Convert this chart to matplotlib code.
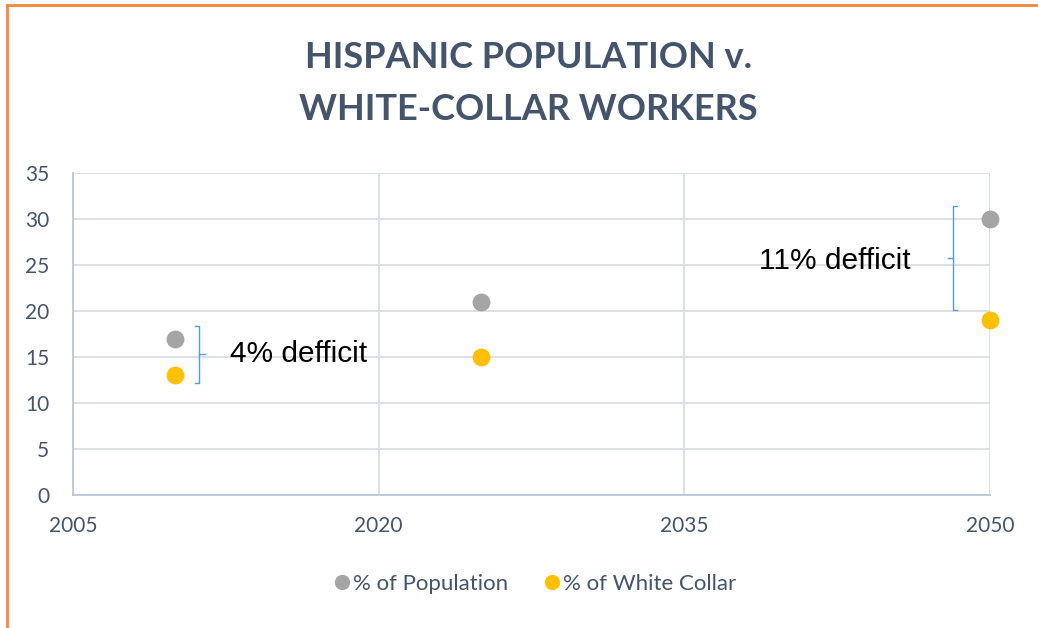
import matplotlib
matplotlib.use("Agg")
import matplotlib.pyplot as plt
from matplotlib.lines import Line2D

plt.rcParams.update({
    "font.family": ["Lato", "DejaVu Sans"],
})

# ---------- data ----------
years = [2010, 2025, 2050]
pct_population = [17, 21, 30]
pct_white_collar = [13, 15, 19]

x_ticks = [2005, 2020, 2035, 2050]
y_ticks = [0, 5, 10, 15, 20, 25, 30, 35]

# bracket annotations: (index into years, x, y_low, y_high, side of the nub)
brackets = [
    (0, 2011.2, 12.2, 18.4, "right"),
    (2, 2048.2, 20.1, 31.4, "left"),
]

GRAY = "#A5A5A5"
GOLD = "#FFC000"
TEXT = "#44546A"
GRID = "#D9DEE7"
SPINE = "#BCC6D4"
BRACE = "#5B9BD5"

fig = plt.figure(figsize=(10.38, 6.28), dpi=100)
ax = fig.add_axes([73 / 1038, 133 / 628, 917 / 1038, 322 / 628])

ax.set_xlim(2005, 2050)
ax.set_ylim(0, 35)
ax.set_xticks(x_ticks)
ax.set_yticks(y_ticks)
ax.grid(True, color=GRID, lw=1.3)
ax.set_axisbelow(True)
for side in ("top", "right"):
    ax.spines[side].set_visible(False)
for side in ("left", "bottom"):
    ax.spines[side].set_color(SPINE)
    ax.spines[side].set_linewidth(1.3)
ax.tick_params(length=0, labelsize=15, labelcolor=TEXT)
ax.tick_params(axis="y", pad=17)
ax.tick_params(axis="x", pad=15)

ax.scatter(years, pct_population, s=140, color=GRAY, zorder=3, clip_on=False)
ax.scatter(years, pct_white_collar, s=140, color=GOLD, zorder=3, clip_on=False)

# deficit brackets with labels
for i, bx, lo, hi, side in brackets:
    arm = 0.2 if side == "right" else -0.2
    ax.plot([bx - arm, bx, bx, bx - arm], [hi, hi, lo, lo], color=BRACE, lw=1)
    mid = (lo + hi) / 2
    ax.plot([bx, bx + 1.3 * arm], [mid, mid], color=BRACE, lw=1)
    label = f"{pct_population[i] - pct_white_collar[i]}% defficit"
    if side == "right":
        ax.text(bx + 1.5, mid, label, ha="left", va="center", fontsize=21.5,
                family=["Liberation Sans"], color="black")
    else:
        ax.text(bx - 2.1, mid - 0.3, label, ha="right", va="center", fontsize=21.5,
                family=["Liberation Sans"], color="black")

fig.text(0.509, 1 - 58 / 628, "HISPANIC POPULATION v.", ha="center", va="center",
         fontsize=26, fontweight="bold", color=TEXT)
fig.text(0.509, 1 - 110 / 628, "WHITE-COLLAR WORKERS", ha="center", va="center",
         fontsize=26, fontweight="bold", color=TEXT)

handles = [
    Line2D([], [], ls="", marker="o", ms=10, color=GRAY, label="% of Population"),
    Line2D([], [], ls="", marker="o", ms=10, color=GOLD, label="% of White Collar"),
]
fig.legend(handles=handles, loc="center", bbox_to_anchor=(0.513, 1 - 584 / 628),
           ncol=2, frameon=False, fontsize=16, labelcolor=TEXT,
           handletextpad=-0.1, columnspacing=1.4, handlelength=1.2)

# orange frame along the top and left edges
fig.add_artist(Line2D([7 / 1038, 7 / 1038], [0, 1 - 5 / 628], transform=fig.transFigure,
                      color="#F0883E", lw=2))
fig.add_artist(Line2D([7 / 1038, 1], [1 - 5 / 628, 1 - 5 / 628], transform=fig.transFigure,
                      color="#F0883E", lw=2))

fig.savefig("out.png", dpi=100)
